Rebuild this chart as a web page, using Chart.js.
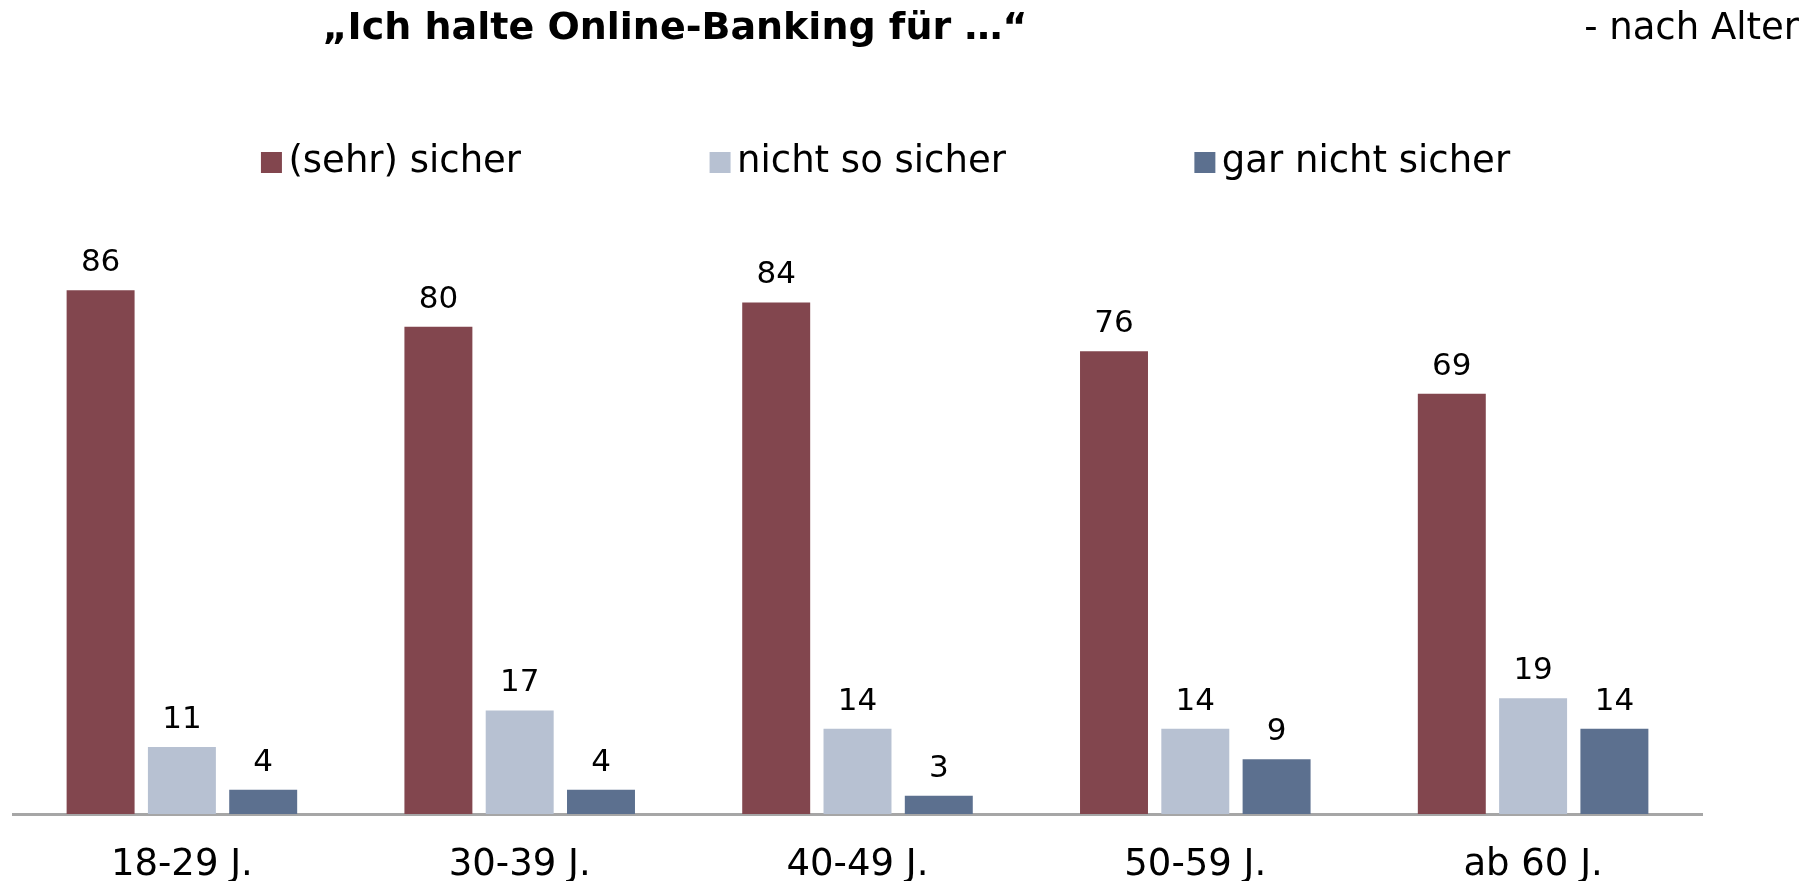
<!DOCTYPE html>
<html><head><meta charset="utf-8">
<script src="https://cdn.jsdelivr.net/npm/chart.js@4"></script>
<style>html,body{margin:0;padding:0;background:#fff;}canvas{display:block;}</style>
</head><body>
<canvas id="c" width="1811" height="881"></canvas>
<script>
const titleText = '„Ich halte Online-Banking für …“';
const subtitleText = '- nach Alter';
const categories = ['18-29 J.', '30-39 J.', '40-49 J.', '50-59 J.', 'ab 60 J.'];
const seriesNames = ['(sehr) sicher', 'nicht so sicher', 'gar nicht sicher'];
const sehrSicher = [86, 80, 84, 76, 69];
const nichtSoSicher = [11, 17, 14, 14, 19];
const garNichtSicher = [4, 4, 3, 9, 14];
const seriesColors = ['#82464E', '#B7C1D2', '#5C708F'];

const FONT = '"DejaVu Sans", Verdana, sans-serif';
Chart.defaults.font.family = FONT;
Chart.defaults.color = '#000';

// legend markers: square placed close to the text inside a wider layout slot
const LEG_W = 54, LEG_SQ = 21;
function marker(color) {
  const cv = document.createElement('canvas');
  cv.width = LEG_W + 42; cv.height = LEG_SQ;
  const g = cv.getContext('2d');
  g.fillStyle = color;
  g.fillRect(LEG_W + 12, 0, LEG_SQ, LEG_SQ);
  return cv;
}
const markers = seriesColors.map(marker);

const valueLabels = {
  id: 'valueLabels',
  afterDatasetsDraw(chart) {
    const ctx = chart.ctx;
    ctx.save();
    ctx.font = '31px ' + FONT;
    ctx.fillStyle = '#000';
    ctx.textAlign = 'center';
    ctx.textBaseline = 'alphabetic';
    chart.data.datasets.forEach((ds, i) => {
      chart.getDatasetMeta(i).data.forEach((bar, j) => {
        ctx.fillText(String(ds.data[j]), bar.x, bar.y - 19);
      });
    });
    ctx.restore();
  }
};
const headerText = {
  id: 'headerText',
  afterDraw(chart) {
    const ctx = chart.ctx;
    ctx.save();
    ctx.fillStyle = '#000';
    ctx.textBaseline = 'alphabetic';
    ctx.font = 'bold 38px ' + FONT;
    ctx.textAlign = 'center';
    ctx.fillText(titleText, 675, 39);
    ctx.font = '37px ' + FONT;
    ctx.textAlign = 'right';
    ctx.fillText(subtitleText, 1799, 39);
    ctx.restore();
  }
};

new Chart(document.getElementById('c'), {
  type: 'bar',
  data: {
    labels: categories,
    datasets: [
      { label: seriesNames[0], data: sehrSicher, backgroundColor: seriesColors[0] },
      { label: seriesNames[1], data: nichtSoSicher, backgroundColor: seriesColors[1] },
      { label: seriesNames[2], data: garNichtSicher, backgroundColor: seriesColors[2] }
    ]
  },
  options: {
    responsive: false,
    animation: false,
    layout: { padding: { left: 13, right: 98, top: 0, bottom: 0 } },
    datasets: { bar: { categoryPercentage: 0.722, barPercentage: 0.836, borderWidth: 0 } },
    plugins: {
      tooltip: { enabled: false },
      title: { display: false },
      legend: {
        display: true,
        position: 'top',
        align: 'center',
        labels: {
          usePointStyle: true,
          pointStyleWidth: LEG_W,
          boxHeight: LEG_SQ,
          padding: 143.5,
          color: '#000',
          font: { size: 37, family: FONT },
          generateLabels(chart) {
            const items = Chart.defaults.plugins.legend.labels.generateLabels(chart);
            items.forEach((it, i) => { it.pointStyle = markers[i]; it.lineWidth = 0; });
            return items;
          }
        }
      }
    },
    scales: {
      x: {
        z: 1,
        grid: { display: false, drawTicks: false },
        border: { display: true, color: '#A6A6A6', width: 3 },
        ticks: { font: { size: 37 }, color: '#000', padding: 29, autoSkip: false, maxRotation: 0 },
        afterFit(s) { s.height = 67; }
      },
      xTop: {
        type: 'category',
        position: 'top',
        grid: { display: false, drawTicks: false },
        border: { display: false },
        ticks: { display: false },
        afterFit(s) { s.height = 14.5; }
      },
      y: {
        position: 'right',
        min: 0, max: 100,
        grid: { display: false, drawTicks: false },
        border: { display: false },
        ticks: { display: false },
        afterFit(s) { s.width = 11; }
      }
    }
  },
  plugins: [valueLabels, headerText]
});
</script>
</body></html>
